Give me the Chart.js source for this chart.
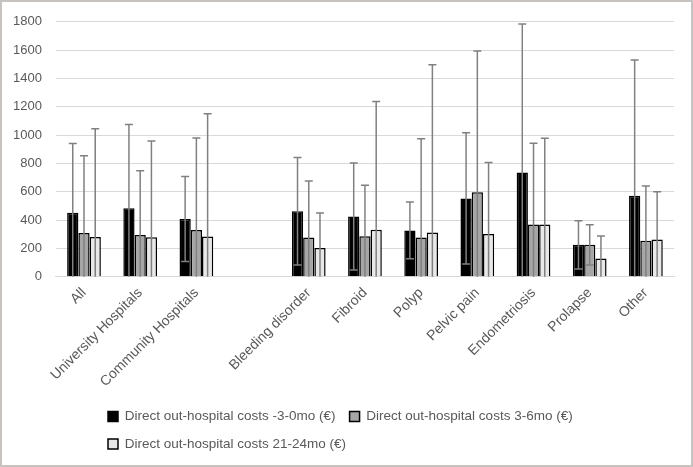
<!DOCTYPE html>
<html><head><meta charset="utf-8">
<script src="https://cdn.jsdelivr.net/npm/chart.js@4"></script>
<style>
html,body{margin:0;padding:0;background:#fff;}
#wrap{position:relative;width:693px;height:467px;}
#frame{position:absolute;left:0;top:0;width:693px;height:467px;box-sizing:border-box;border:2px solid #c6c3c0;pointer-events:none;}
canvas{display:block;}
</style></head><body>
<div id="wrap"><canvas id="c" width="693" height="467"></canvas><div id="frame"></div></div>
<script>
const categories = ["All","University Hospitals","Community Hospitals","","Bleeding disorder","Fibroid","Polyp","Pelvic pain","Endometriosis","Prolapse","Other"];
const seriesNames = ["Direct out-hospital costs -3-0mo (€)","Direct out-hospital costs 3-6mo (€)","Direct out-hospital costs 21-24mo (€)"];
const costsPre = [452,483,408,null,462,425,327,553,736,225,572];
const costsPreSD = [488,592,300,null,380,378,200,463,1049,170,959];
const costs3to6 = [309,295,330,null,276,285,276,596,369,225,253];
const costs3to6SD = [545,453,649,null,399,360,698,998,573,142,387];
const costs21to24 = [281,279,283,null,202,332,313,302,369,128,262];
const costs21to24SD = [763,679,868,null,248,905,1183,505,608,160,337];
const yTicks = [0,200,400,600,800,1000,1200,1400,1600,1800];

const errors = [costsPreSD, costs3to6SD, costs21to24SD];
const FONT = "'Liberation Sans', Arial, sans-serif";
const TXT = '#595959';
const PLOT_BOTTOM = 276.7;

const errorBarPlugin = {
  id: 'errorBars',
  afterDatasetsDraw(chart) {
    const ctx = chart.ctx, ys = chart.scales.y, a = chart.chartArea;
    ctx.save();
    ctx.beginPath();
    ctx.rect(a.left, a.top - 10, a.right - a.left, a.bottom - a.top + 10);
    ctx.clip();
    ctx.strokeStyle = '#808080';
    ctx.lineWidth = 1.5;
    chart.data.datasets.forEach((ds, i) => {
      const meta = chart.getDatasetMeta(i);
      meta.data.forEach((bar, j) => {
        const m = ds.data[j], e = errors[i][j];
        if (m == null || e == null) return;
        const x = bar.x;
        const yt = ys.getPixelForValue(m + e);
        const yb = ys.getPixelForValue(m - e);
        ctx.beginPath();
        ctx.moveTo(x, yt); ctx.lineTo(x, yb);
        ctx.moveTo(x - 4, yt); ctx.lineTo(x + 4, yt);
        ctx.moveTo(x - 4, yb); ctx.lineTo(x + 4, yb);
        ctx.stroke();
      });
    });
    ctx.restore();
  }
};

const legendPos = {
  id: 'legendPos',
  afterLayout(chart) {
    const l = chart.legend;
    const w = l.width, h = l.height;
    l.left = 94; l.right = l.left + w;
    l.top = 395.7; l.bottom = l.top + h;
  }
};

new Chart(document.getElementById('c'), {
  type: 'bar',
  data: {
    labels: categories,
    datasets: [
      {label: seriesNames[0], data: costsPre, backgroundColor: '#000000', borderColor: '#000000', borderWidth: 1.5},
      {label: seriesNames[1], data: costs3to6, backgroundColor: '#a6a6a6', borderColor: '#000000', borderWidth: 1.5},
      {label: seriesNames[2], data: costs21to24, backgroundColor: '#e8e8e8', borderColor: '#000000', borderWidth: 1.5}
    ]
  },
  options: {
    responsive: false,
    animation: false,
    devicePixelRatio: 1,
    layout: {padding: {left: 0, top: 18.3, right: 19, bottom: 0}},
    datasets: {bar: {categoryPercentage: 0.6, barPercentage: 1.0}},
    scales: {
      x: {
        grid: {display: false, drawTicks: false},
        border: {display: true, color: '#d9d9d9', width: 1},
        ticks: {autoSkip: false, maxRotation: 45, minRotation: 45, padding: 8, color: TXT, font: {family: FONT, size: 14}},
        afterFit(s) {
          const lh = (s.chart.legend && s.chart.legend.height) || 0;
          s.height = s.chart.height - lh - PLOT_BOTTOM;
        }
      },
      y: {
        min: 0, max: 1800,
        afterBuildTicks(s) { s.ticks = yTicks.map(v => ({value: v})); },
        grid: {color: '#d9d9d9', lineWidth: 1, drawTicks: false},
        border: {display: false},
        ticks: {padding: 14, color: TXT, font: {family: FONT, size: 13}, callback: v => String(v)},
        afterFit(s) { s.width = 55.9; }
      }
    },
    plugins: {
      tooltip: {enabled: false},
      legend: {
        position: 'bottom',
        align: 'start',
        labels: {boxWidth: 10, boxHeight: 10, padding: 14, color: TXT, font: {family: FONT, size: 13.5}}
      }
    }
  },
  plugins: [errorBarPlugin, legendPos]
});
</script>
</body></html>
